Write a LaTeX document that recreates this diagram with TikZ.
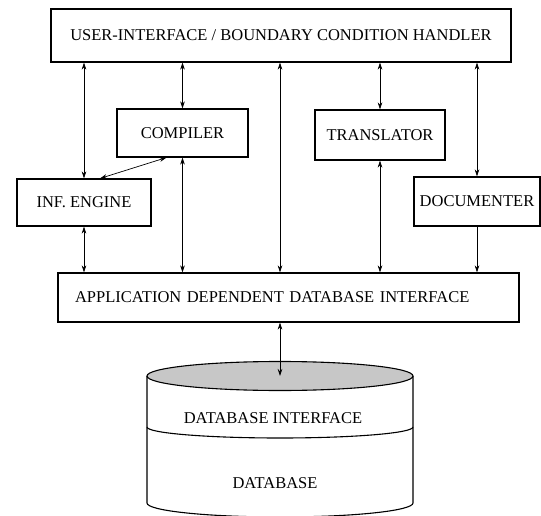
\documentclass[tikz,border=0pt]{standalone}
\usepackage{fontspec}
\setmainfont{Liberation Serif}
\usetikzlibrary{calc}
\usetikzlibrary{arrows.meta}

\tikzset{
  blk/.style={draw, line width=1.1pt, inner sep=0pt, font=\fontsize{16.5}{18}\selectfont},
  link/.style={<->, >={Stealth[length=7pt, width=4.5pt]}, line width=.7pt},
}

\begin{document}
\begin{tikzpicture} [x=1pt, y=-1pt]
\useasboundingbox (0,0) rectangle (541,516);
% boxes
\node[blk, minimum width=460, minimum height=53] (ui) at (281,35.5) {USER-INTERFACE / BOUNDARY CONDITION HANDLER};
\node[blk, minimum width=131, minimum height=48] (comp) at (182.5,133) {COMPILER};
\node[blk, minimum width=130, minimum height=50] (trans) at (380,135) {TRANSLATOR};
\node[blk, minimum width=134, minimum height=47] (inf) at (84,202.5) {INF. ENGINE};
\node[blk, minimum width=126, minimum height=49] (doc) at (477,201.5) {DOCUMENTER};
\node[blk, minimum height=49, inner xsep=17pt, text width=427pt, align=left] (app) at (288.5,297.5) {APPLICATION DEPENDENT DATABASE INTERFACE};
% database
\coordinate (dbtop) at (280,376);
\draw[line width=1.1pt, fill=black!22] (dbtop) ellipse [x radius=133, y radius=14.5];
\draw[line width=1.1pt] (147,376) -- (147,503) arc[start angle=180, end angle=0, x radius=133, y radius=14] -- (413,376);
\draw[line width=1.1pt] (147,427) arc[start angle=180, end angle=0, x radius=133, y radius=11];
\node[font=\fontsize{16.5}{18}\selectfont] (dbif) at (273,418) {DATABASE INTERFACE};
\node[font=\fontsize{16.5}{18}\selectfont] (dbase) at (275,483) {DATABASE};
% connections
\foreach \n in {inf,comp,trans,doc} {
 \draw[link] (ui.south -| \n.north) -- (\n.north);
}
\foreach \n in {inf,comp,trans} {
 \draw[link] (\n.south) -- (app.north -| \n.south);
}
\draw[link, <-] (app.north -| doc.south) -- (doc.south);
\draw[link] (ui.south -| dbtop) -- (app.north -| dbtop);
\draw[link] (app.south -| dbtop) -- (dbtop);
\draw[link] ($(comp.south)+(-16,0)$) -- ($(inf.north)+(16,0)$);
\end{tikzpicture}
\end{document}
